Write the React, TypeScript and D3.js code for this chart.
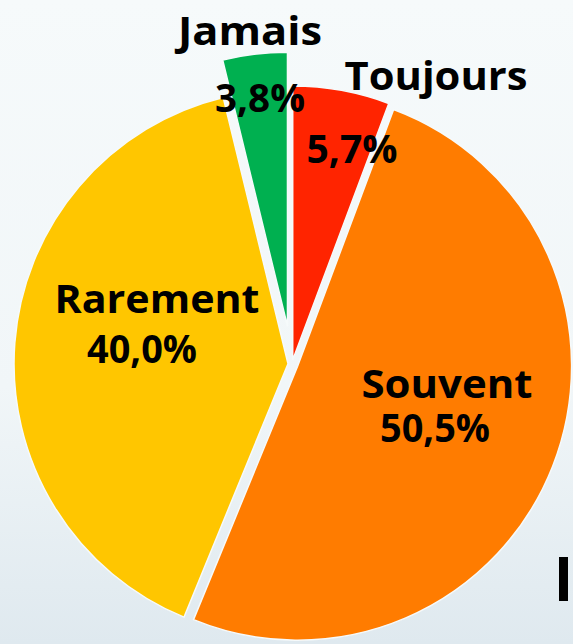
import React from 'react';
import * as d3 from 'd3';

// Données (sens horaire depuis midi)
const categories = ['Toujours', 'Souvent', 'Rarement', 'Jamais'];
const values = [5.7, 50.5, 40.0, 3.8];
const pctLabels = ['5,7%', '50,5%', '40,0%', '3,8%'];

// Mise en page
const width = 573;
const height = 644;
const cx = 292;
const cy = 364;
const radius = 274;
const colors = ['#FF2400', '#FF7C00', '#FFC600', '#00B050'];
const explode = [4, 6, 4, 38];
// positions des textes par rapport au centre : [nom dx, nom dy, pct dx, pct dy]
const labelPos = [
  [144, -274, 60, -201],
  [155, 34, 143, 78],
  [-135, -51, -150, -1],
  [-42, -319, -32, -252],
];
// largeur des textes (nom, pourcentage)
const labelLen = [
  [183, 91],
  [171, 110],
  [205, 110],
  [144, 90],
];

const font = '"Open Sans", Lato, sans-serif';

export default function App() {
  const data = categories.map((c, i) => ({ label: c, value: values[i], pct: pctLabels[i] }));

  const pie = d3.pie<any>().value(d => d.value).sort(null);
  const arc = d3.arc<any>().innerRadius(0).outerRadius(radius);
  const arcs = pie(data);

  return (
    <svg width={width} height={height} style={{ position: 'absolute', left: 0, top: 0, display: 'block' }}>
      <defs>
        <linearGradient id="bg" x1="0" y1="0" x2="0" y2="1">
          <stop offset="0" stopColor="#f6fafb" />
          <stop offset="0.6" stopColor="#f1f6f8" />
          <stop offset="1" stopColor="#dfe9ef" />
        </linearGradient>
      </defs>
      <rect x={0} y={0} width={width} height={height} fill="url(#bg)" />
      <g transform={`translate(${cx},${cy})`}>
        {arcs.map((a, i) => {
          const mid = (a.startAngle + a.endAngle) / 2;
          const ox = Math.sin(mid) * explode[i];
          const oy = -Math.cos(mid) * explode[i];
          return (
            <path
              key={a.data.label}
              d={arc(a) as string}
              transform={`translate(${ox},${oy})`}
              fill={colors[i]}
              stroke="#f6fafb"
              strokeWidth={1.5}
            />
          );
        })}
        {arcs.map((a, i) => (
          <g key={'l' + a.data.label} fontFamily={font} fontWeight={700} fontSize={39} fill="#000" textAnchor="middle">
            <text x={labelPos[i][0]} y={labelPos[i][1]} textLength={labelLen[i][0]} lengthAdjust="spacingAndGlyphs">
              {a.data.label}
            </text>
            <text x={labelPos[i][2]} y={labelPos[i][3]} textLength={labelLen[i][1]} lengthAdjust="spacingAndGlyphs">
              {a.data.pct}
            </text>
          </g>
        ))}
      </g>
      <rect x={559} y={557} width={9} height={44} fill="#000" />
    </svg>
  );
}
